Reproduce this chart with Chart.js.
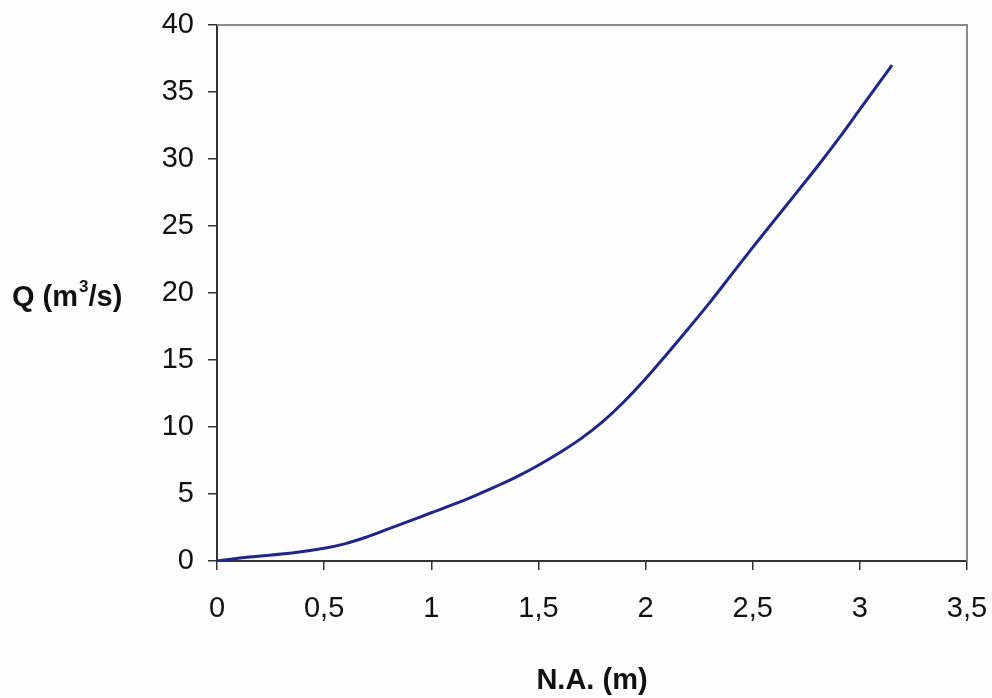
<!DOCTYPE html>
<html>
<head>
<meta charset="utf-8">
<script src="https://cdn.jsdelivr.net/npm/chart.js@4.4.1/dist/chart.umd.min.js"></script>
<style>
  html, body { margin: 0; padding: 0; background: #fdfdfd; }
  #wrap { width: 992px; height: 698px; position: relative; }
</style>
</head>
<body>
<div id="wrap"><canvas id="rating"></canvas></div>
<script>
// water level (m) vs discharge (m3/s)
const levels = [0, 0.15, 0.35, 0.5, 0.6, 0.7, 0.8, 0.9, 1.0, 1.1, 1.2, 1.3, 1.4, 1.5, 1.6, 1.7, 1.8, 1.9, 2.0, 2.1, 2.2, 2.3, 2.4, 2.5, 2.6, 2.7, 2.8, 2.9, 3.0, 3.1, 3.15];
const discharge = [0, 0.3, 0.6, 0.95, 1.3, 1.8, 2.4, 3.0, 3.6, 4.2, 4.85, 5.55, 6.3, 7.15, 8.1, 9.15, 10.4, 11.9, 13.6, 15.45, 17.35, 19.3, 21.35, 23.4, 25.4, 27.4, 29.4, 31.5, 33.7, 35.9, 37.0];
const xTickLabels = ['0', '0,5', '1', '1,5', '2', '2,5', '3', '3,5'];
const yTickLabels = ['0', '5', '10', '15', '20', '25', '30', '35', '40'];

const FONT = "'Liberation Sans', Arial, sans-serif";

// frame on top/right + horizontal y title with superscript
const framePlugin = {
    id: 'frame',
    afterDraw(chart) {
        const c = chart.ctx, a = chart.chartArea;
        c.save();
        c.strokeStyle = '#8a8a8a';
        c.lineWidth = 2;
        c.beginPath();
        c.moveTo(a.left, a.top);
        c.lineTo(a.right, a.top);
        c.lineTo(a.right, a.bottom);
        c.stroke();

        c.fillStyle = '#111';
        c.textBaseline = 'alphabetic';
        let x = 12, y = (a.top + a.bottom) / 2 + 13;
        c.font = "bold 29px " + FONT;
        c.fillText('Q (m', x, y);
        x += c.measureText('Q (m').width;
        c.font = "bold 17px " + FONT;
        c.fillText('3', x + 1, y - 14);
        x += c.measureText('3').width + 1;
        c.font = "bold 29px " + FONT;
        c.fillText('/s)', x, y);
        c.restore();
    }
};

new Chart(document.getElementById('rating'), {
    type: 'line',
    data: {
        datasets: [{
            data: levels.map((v, i) => ({ x: v, y: discharge[i] })),
            borderColor: '#1f2687',
            borderWidth: 3,
            pointRadius: 0,
            fill: false,
            tension: 0.4
        }]
    },
    options: {
        responsive: true,
        maintainAspectRatio: false,
        animation: false,
        layout: { padding: { top: 25, right: 25, left: 0, bottom: 0 } },
        plugins: {
            legend: { display: false },
            tooltip: { enabled: false }
        },
        scales: {
            x: {
                type: 'linear',
                min: 0,
                max: 3.5,
                ticks: {
                    stepSize: 0.5,
                    color: '#111',
                    font: { family: FONT, size: 29 },
                    padding: 22,
                    maxRotation: 0,
                    callback: (v) => xTickLabels[Math.round(v / 0.5)]
                },
                grid: { drawOnChartArea: false, tickLength: 9, color: '#333', lineWidth: 1.5 },
                border: { color: '#333', width: 2 },
                title: {
                    display: true,
                    text: 'N.A. (m)',
                    color: '#111',
                    font: { family: FONT, size: 29, weight: 'bold' },
                    padding: { top: 24, bottom: 0 }
                },
                afterFit(scale) {
                    scale.height = 137;
                    scale.paddingLeft = 0;
                    scale.paddingRight = 0;
                }
            },
            y: {
                min: 0,
                max: 40,
                ticks: {
                    stepSize: 5,
                    color: '#111',
                    font: { family: FONT, size: 29 },
                    padding: 14,
                    callback: (v) => yTickLabels[Math.round(v / 5)]
                },
                grid: { drawOnChartArea: false, tickLength: 9, color: '#333', lineWidth: 1.5 },
                border: { color: '#333', width: 2 },
                afterFit(scale) {
                    scale.width = 217;
                    scale.paddingTop = 0;
                    scale.paddingBottom = 0;
                }
            }
        }
    },
    plugins: [framePlugin]
});
</script>
</body>
</html>
